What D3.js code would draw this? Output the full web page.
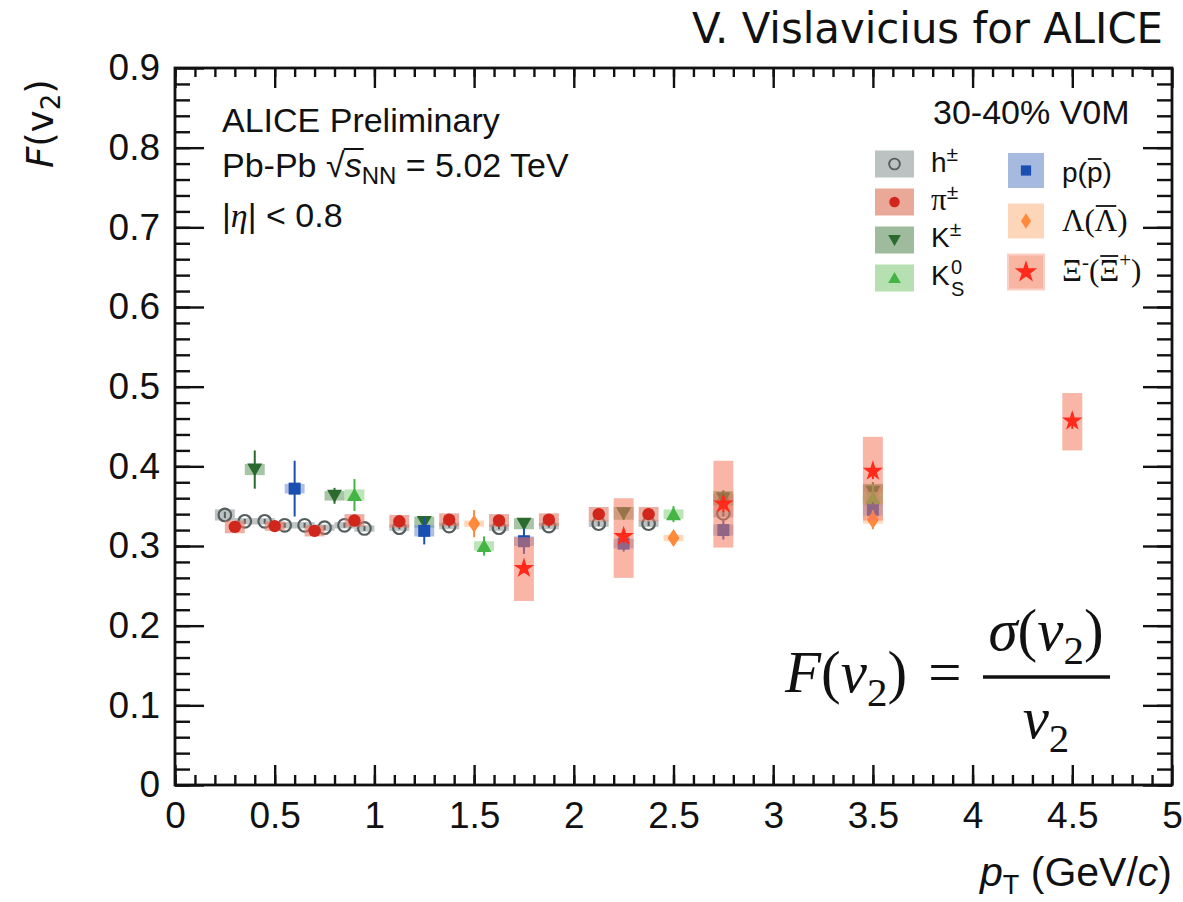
<!DOCTYPE html>
<html><head><meta charset="utf-8">
<script src="https://cdn.jsdelivr.net/npm/d3@7"></script>
<style>body{margin:0;background:#fff}</style>
</head><body>
<svg id="c" width="1183" height="902"></svg>
<script>
// ---------- data ----------
const hPt   = [0.25,0.35,0.45,0.55,0.65,0.75,0.85,0.95,1.125,1.375,1.625,1.875,2.125,2.375,2.75,3.5];
const hVal  = [0.339,0.331,0.331,0.326,0.326,0.323,0.326,0.322,0.323,0.325,0.323,0.325,0.328,0.328,0.341,0.357];
const hStat = [0.004,0.003,0.003,0.003,0.003,0.003,0.003,0.003,0.002,0.002,0.002,0.002,0.003,0.003,0.004,0.005];
const hSys  = [0.007,0.004,0.004,0.004,0.004,0.004,0.004,0.004,0.004,0.004,0.004,0.004,0.004,0.004,0.005,0.006];

const piPt   = [0.3,0.5,0.7,0.9,1.125,1.375,1.625,1.875,2.125,2.375,2.75,3.5];
const piVal  = [0.324,0.325,0.319,0.332,0.331,0.333,0.332,0.333,0.340,0.340,0.356,0.365];
const piStat = [0.004,0.004,0.004,0.004,0.004,0.004,0.004,0.004,0.005,0.005,0.006,0.008];
const piSys  = [0.008,0.006,0.007,0.008,0.008,0.008,0.008,0.008,0.009,0.009,0.010,0.012];

const kPt   = [0.4,0.8,1.25,1.75,2.25,2.75,3.5];
const kVal  = [0.396,0.363,0.330,0.328,0.341,0.360,0.368];
const kStat = [0.024,0.010,0.005,0.006,0.008,0.010,0.012];
const kSys  = [0.007,0.006,0.007,0.007,0.008,0.009,0.010];

const k0Pt   = [0.9,1.55,2.5,3.5];
const k0Val  = [0.364,0.300,0.340,0.360];
const k0Stat = [0.020,0.012,0.010,0.018];
const k0Sys  = [0.007,0.006,0.006,0.008];

const pPt   = [0.6,1.25,1.75,2.25,2.75,3.5];
const pVal  = [0.372,0.319,0.306,0.303,0.320,0.345];
const pStat = [0.035,0.017,0.016,0.010,0.012,0.010];
const pSys  = [0.006,0.007,0.006,0.006,0.007,0.007];

const lamPt   = [1.5,2.5,3.5];
const lamVal  = [0.328,0.310,0.333];
const lamStat = [0.017,0.007,0.012];
const lamSys  = [0.004,0.004,0.005];

const xiPt    = [1.75,2.25,2.75,3.5,4.5];
const xiVal   = [0.272,0.312,0.353,0.394,0.457];
const xiStat  = [0.006,0.008,0.010,0.010,0.010];
const xiSysLo = [0.041,0.052,0.055,0.062,0.037];
const xiSysHi = [0.039,0.048,0.054,0.043,0.035];

const xMajor = [0,0.5,1,1.5,2,2.5,3,3.5,4,4.5,5];
const yMajor = [0,0.1,0.2,0.3,0.4,0.5,0.6,0.7,0.8,0.9];

// ---------- setup ----------
const svg = d3.select("#c");
const x = d3.scaleLinear().domain([0,5]).range([175,1172]);
const y = d3.scaleLinear().domain([0,0.9]).range([785,68]);
const HW = 0.05; // half-width of systematic boxes in pT

const series = [
  {pt:hPt,val:hVal,stat:hStat,lo:hSys,hi:hSys,m:"circleOpen",c:"#535d5d",box:"#a7adad",op:0.75},
  {pt:piPt,val:piVal,stat:piStat,lo:piSys,hi:piSys,m:"dot",c:"#d0261c",box:"#e07a68",op:0.6},
  {pt:kPt,val:kVal,stat:kStat,lo:kSys,hi:kSys,m:"triDown",c:"#2b6a2f",box:"#6e9d6c",op:0.6},
  {pt:k0Pt,val:k0Val,stat:k0Stat,lo:k0Sys,hi:k0Sys,m:"triUp",c:"#44b444",box:"#90d38a",op:0.6},
  {pt:pPt,val:pVal,stat:pStat,lo:pSys,hi:pSys,m:"square",c:"#1a4fb2",box:"#7694d0",op:0.6},
  {pt:lamPt,val:lamVal,stat:lamStat,lo:lamSys,hi:lamSys,m:"diamond",c:"#ff8a3c",box:"#ffc49a",op:0.65},
  {pt:xiPt,val:xiVal,stat:xiStat,lo:xiSysLo,hi:xiSysHi,m:"star",c:"#ff2a1c",box:"#f47a5e",op:0.55}
];

function marker(g, type, cx, cy, color, s=1){
  if(type==="circleOpen"){
    g.append("circle").attr("cx",cx).attr("cy",cy).attr("r",6.3*s)
      .attr("fill","none").attr("stroke",color).attr("stroke-width",2.2*s);
  } else if(type==="dot"){
    g.append("circle").attr("cx",cx).attr("cy",cy).attr("r",6.2*s).attr("fill",color);
  } else if(type==="triDown"){
    g.append("path").attr("d",`M${cx-7.5*s},${cy-6*s}L${cx+7.5*s},${cy-6*s}L${cx},${cy+7*s}Z`).attr("fill",color);
  } else if(type==="triUp"){
    g.append("path").attr("d",`M${cx-7.5*s},${cy+6*s}L${cx+7.5*s},${cy+6*s}L${cx},${cy-7*s}Z`).attr("fill",color);
  } else if(type==="square"){
    g.append("rect").attr("x",cx-6*s).attr("y",cy-6*s).attr("width",12*s).attr("height",12*s).attr("fill",color);
  } else if(type==="diamond"){
    g.append("path").attr("d",`M${cx},${cy-9*s}L${cx+6*s},${cy}L${cx},${cy+9*s}L${cx-6*s},${cy}Z`).attr("fill",color);
  } else if(type==="star"){
    g.append("path").attr("d",d3.symbol(d3.symbolStar,130*s*s)()).attr("transform",`translate(${cx},${cy})`).attr("fill",color);
  }
}

// ---------- data marks ----------
const gData = svg.append("g");
series.forEach(S=>{
  const g = gData.append("g");
  S.pt.forEach((p,i)=>{
    g.append("rect")
      .attr("x",x(p-HW)).attr("width",x(p+HW)-x(p-HW))
      .attr("y",y(S.val[i]+S.hi[i])).attr("height",y(S.val[i]-S.lo[i])-y(S.val[i]+S.hi[i]))
      .attr("fill",S.box).attr("opacity",S.op);
  });
  S.pt.forEach((p,i)=>{
    g.append("line").attr("x1",x(p)).attr("x2",x(p))
      .attr("y1",y(S.val[i]-S.stat[i])).attr("y2",y(S.val[i]+S.stat[i]))
      .attr("stroke",S.c).attr("stroke-width",2);
  });
  S.pt.forEach((p,i)=> marker(g,S.m,x(p),y(S.val[i]),S.c));
});

// ---------- axes ----------
const fmtY = d=> d===0?"0":d3.format(".1f")(d);
const axStyle = g=>{ g.select(".domain").remove(); g.selectAll("line").attr("stroke","#111").attr("stroke-width",2.4);
  g.selectAll("text").attr("font-family","Liberation Sans, Arial, sans-serif").attr("font-size",37).attr("fill","#111"); };

svg.append("g").attr("transform","translate(0,785)")
  .call(d3.axisBottom(x).tickValues(xMajor).tickSize(-20).tickPadding(16.5).tickFormat(d3.format("~g"))).call(axStyle);
svg.append("g").attr("transform","translate(0,785)")
  .call(d3.axisBottom(x).tickValues(d3.range(0,50).map(i=>i/10)).tickSize(-10).tickFormat("")).call(axStyle);
svg.append("g").attr("transform","translate(0,68)")
  .call(d3.axisTop(x).tickValues(xMajor).tickSize(-20).tickFormat("")).call(axStyle);
svg.append("g").attr("transform","translate(0,68)")
  .call(d3.axisTop(x).tickValues(d3.range(0,50).map(i=>i/10)).tickSize(-9).tickFormat("")).call(axStyle);

svg.append("g").attr("transform","translate(175,0)")
  .call(d3.axisLeft(y).tickValues(yMajor).tickSize(-29).tickPadding(15).tickFormat(fmtY)).call(axStyle);
svg.append("g").attr("transform","translate(175,0)")
  .call(d3.axisLeft(y).tickValues(d3.range(0,45).map(i=>i/50)).tickSize(-15).tickFormat("")).call(axStyle);
svg.append("g").attr("transform","translate(1172,0)")
  .call(d3.axisRight(y).tickValues(yMajor).tickSize(-29).tickFormat("")).call(axStyle);
svg.append("g").attr("transform","translate(1172,0)")
  .call(d3.axisRight(y).tickValues(d3.range(0,45).map(i=>i/50)).tickSize(-15).tickFormat("")).call(axStyle);

svg.append("rect").attr("x",175).attr("y",68).attr("width",1172-175).attr("height",785-68)
  .attr("fill","none").attr("stroke","#111").attr("stroke-width",2.8);

// ---------- text ----------
const SANS="Liberation Sans, Arial, Helvetica, sans-serif";
const SERIF="Liberation Serif, Times New Roman, serif";
const MEI="DejaVu Sans, Verdana, sans-serif";

svg.append("text").attr("x",1163).attr("y",43).attr("text-anchor","end")
  .attr("font-family",MEI).attr("font-size",41.8).attr("fill","#111").text("V. Vislavicius for ALICE");

// y title
const yt = svg.append("text").attr("transform","translate(53,168) rotate(-90)")
  .attr("font-family",MEI).attr("font-size",37).attr("fill","#111");
yt.append("tspan").attr("font-style","italic").text("F");
yt.append("tspan").text("(v");
yt.append("tspan").attr("font-size",26).attr("dy",7).text("2");
yt.append("tspan").attr("dy",-7).text(")");

// x title
const xt = svg.append("text").attr("x",1172).attr("y",886).attr("text-anchor","end")
  .attr("font-family",SANS).attr("font-size",41).attr("fill","#111");
xt.append("tspan").attr("font-style","italic").text("p");
xt.append("tspan").attr("font-size",27).attr("dy",8).text("T");
xt.append("tspan").attr("dy",-8).text(" (GeV/");
xt.append("tspan").attr("font-style","italic").text("c");
xt.append("tspan").text(")");

// info text
const infoFs = 34;
svg.append("text").attr("x",222).attr("y",132).attr("font-family",SANS).attr("font-size",infoFs).attr("fill","#111").text("ALICE Preliminary");
const pb = svg.append("text").attr("x",222).attr("y",177).attr("font-family",SANS).attr("font-size",infoFs).attr("fill","#111");
pb.append("tspan").text("Pb-Pb ");
pb.append("tspan").text("\u221A");
pb.append("tspan").attr("font-style","italic").text("s");
pb.append("tspan").attr("font-size",24).attr("dy",7).text("NN");
pb.append("tspan").attr("dy",-7).text(" = 5.02 TeV");
{
  const n = pb.node();
  const r = n.getExtentOfChar(6), s = n.getExtentOfChar(7);
  svg.append("line").attr("x1",r.x+r.width-1).attr("x2",s.x+s.width+2)
    .attr("y1",r.y+3).attr("y2",r.y+3).attr("stroke","#111").attr("stroke-width",2);
}
const eta = svg.append("text").attr("x",222).attr("y",227).attr("font-family",SANS).attr("font-size",infoFs).attr("fill","#111");
eta.append("tspan").text("|");
eta.append("tspan").attr("font-family",SERIF).attr("font-style","italic").text("\u03B7");
eta.append("tspan").text("| < 0.8");

svg.append("text").attr("x",933).attr("y",124).attr("font-family",SANS).attr("font-size",infoFs).attr("fill","#111").text("30-40% V0M");

// ---------- legend ----------
const legBoxes = ["#bcc1c1","#e9a898","#9ebc9d","#b7e0b2","#a6b9de","#fdd6ba","#f8b6a2"];
const leftY = [164,202,240,278];
const rightY = [170.5,221,272];
const lg = svg.append("g");
[0,1,2,3].forEach(i=>{
  lg.append("rect").attr("x",875).attr("y",leftY[i]-13.5).attr("width",39).attr("height",27).attr("fill",legBoxes[i]);
  marker(lg, series[i].m, 894.5, leftY[i], series[i].c, 0.85);
});
[4,5,6].forEach((k,j)=>{
  lg.append("rect").attr("x",1008).attr("y",rightY[j]-17.5).attr("width",36).attr("height",35).attr("fill",legBoxes[k])
    .attr("stroke", k===6?"#fbd0c4":"none").attr("stroke-width",2);
  marker(lg, series[k].m, 1026, rightY[j], series[k].c, k===6?1.1:0.85);
});
const LFS=28;
function legText(xp,yp){ return lg.append("text").attr("x",xp).attr("y",yp).attr("font-family",SANS).attr("font-size",LFS).attr("fill","#111"); }
let t;
t = legText(931,172); t.append("tspan").text("h"); t.append("tspan").attr("font-size",21).attr("dy",-11).text("\u00B1");
t = legText(931,210); t.append("tspan").attr("font-family",SERIF).attr("font-size",31).text("\u03C0"); t.append("tspan").attr("font-size",21).attr("dy",-11).text("\u00B1");
t = legText(931,247); t.append("tspan").text("K"); t.append("tspan").attr("font-size",21).attr("dy",-11).text("\u00B1");
t = legText(931,285); t.append("tspan").text("K");
legText(951,274).attr("font-size",20).text("0");
legText(951,296).attr("font-size",20).text("S");

t = legText(1062,182); t.append("tspan").text("p(p)");
{ const n=t.node(); const e=n.getExtentOfChar(2);
  lg.append("line").attr("x1",e.x+1).attr("x2",e.x+e.width-1).attr("y1",159).attr("y2",159).attr("stroke","#111").attr("stroke-width",1.8); }
t = legText(1062,231).attr("font-family",SERIF).attr("font-size",31); t.text("\u039B(\u039B)");
{ const n=t.node(); const e=n.getExtentOfChar(2);
  lg.append("line").attr("x1",e.x+1).attr("x2",e.x+e.width-1).attr("y1",206).attr("y2",206).attr("stroke","#111").attr("stroke-width",1.8); }
t = legText(1062,281).attr("font-family",SERIF).attr("font-size",31);
t.append("tspan").text("\u039E"); t.append("tspan").attr("font-size",21).attr("dy",-12).text("-");
t.append("tspan").attr("dy",12).text("(\u039E"); t.append("tspan").attr("font-size",21).attr("dy",-14).text("+");
t.append("tspan").attr("dy",14).text(")");
{ const n=t.node(); const e=n.getExtentOfChar(3);
  lg.append("line").attr("x1",e.x+1).attr("x2",e.x+e.width-1).attr("y1",256).attr("y2",256).attr("stroke","#111").attr("stroke-width",1.8); }

// ---------- formula ----------
const FF = 59;
const f1 = svg.append("text").attr("x",785).attr("y",692).attr("font-family",SERIF).attr("font-size",FF).attr("fill","#111");
f1.append("tspan").attr("font-style","italic").text("F");
f1.append("tspan").text("(");
f1.append("tspan").attr("font-style","italic").text("v");
f1.append("tspan").attr("font-size",41).attr("dy",14).text("2");
f1.append("tspan").attr("dy",-14).text(")");
svg.append("text").attr("x",945).attr("y",692).attr("text-anchor","middle").attr("font-family",SERIF).attr("font-size",FF).attr("fill","#111").text("=");
svg.append("line").attr("x1",983).attr("x2",1110).attr("y1",677).attr("y2",677).attr("stroke","#111").attr("stroke-width",3.5);
const num = svg.append("text").attr("x",1046).attr("y",650).attr("text-anchor","middle").attr("font-family",SERIF).attr("font-size",FF).attr("fill","#111");
num.append("tspan").attr("font-style","italic").text("\u03C3");
num.append("tspan").text("(");
num.append("tspan").attr("font-style","italic").text("v");
num.append("tspan").attr("font-size",41).attr("dy",14).text("2");
num.append("tspan").attr("dy",-14).text(")");
const den = svg.append("text").attr("x",1046).attr("y",738).attr("text-anchor","middle").attr("font-family",SERIF).attr("font-size",FF).attr("fill","#111");
den.append("tspan").attr("font-style","italic").text("v");
den.append("tspan").attr("font-size",41).attr("dy",14).text("2");
</script>
</body></html>
